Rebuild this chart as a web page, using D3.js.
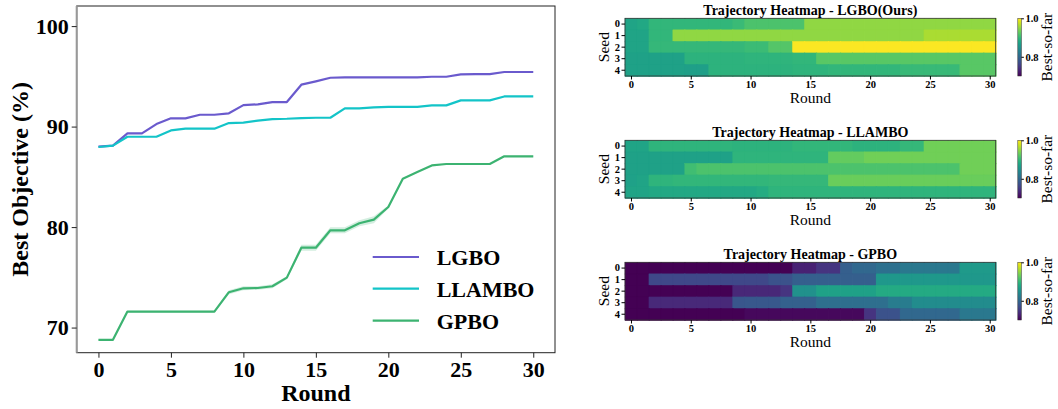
<!DOCTYPE html>
<html><head><meta charset="utf-8">
<script src="https://cdn.jsdelivr.net/npm/d3@7"></script>
<style>body{margin:0;background:#fff}svg{display:block}text{font-family:"Liberation Serif","DejaVu Serif",serif}</style>
</head><body><svg id="c" width="1058" height="409"></svg>
<script>
const rounds = d3.range(0, 31);
const lgbo = [88.0,88.1,89.33,89.33,90.25,90.82,90.82,91.18,91.18,91.32,92.14,92.21,92.44,92.44,94.17,94.5,94.86,94.9,94.9,94.9,94.9,94.9,94.9,94.96,94.96,95.19,95.22,95.22,95.43,95.43,95.43];
const llambo = [87.97,88.1,88.99,88.99,88.99,89.62,89.79,89.79,89.79,90.35,90.39,90.59,90.75,90.78,90.85,90.88,90.88,91.81,91.81,91.91,91.97,91.97,91.97,92.11,92.11,92.61,92.61,92.61,93.0,93.0,93.0];
const gpbo = [68.78,68.78,71.59,71.59,71.59,71.59,71.59,71.59,71.59,73.52,73.91,73.94,74.11,74.97,77.95,77.95,79.68,79.68,80.38,80.74,82.0,84.82,85.48,86.14,86.28,86.28,86.28,86.28,87.04,87.04,87.04];
const gpboStd = [0.05,0.05,0.08,0.08,0.08,0.08,0.08,0.08,0.08,0.2,0.2,0.18,0.2,0.15,0.3,0.3,0.3,0.3,0.3,0.35,0.15,0.05,0.05,0.05,0.05,0.05,0.05,0.05,0.05,0.05,0.05];
const xTicks = [0,5,10,15,20,25,30];
const yTicks = [70,80,90,100];
const seriesNames = ["LGBO","LLAMBO","GPBO"];

// heatmap best-so-far per seed (rows = seeds 0..4, columns = rounds 0..30)
const lgboSeed0 = [0.875,0.88,0.897,0.897,0.897,0.897,0.897,0.897,0.897,0.903,0.915,0.915,0.915,0.915,0.915,0.95,0.95,0.95,0.95,0.95,0.95,0.95,0.95,0.95,0.95,0.95,0.95,0.95,0.95,0.95,0.95];
const lgboSeed1 = [0.875,0.875,0.897,0.897,0.95,0.95,0.95,0.95,0.95,0.95,0.95,0.95,0.95,0.95,0.95,0.95,0.95,0.95,0.95,0.95,0.95,0.95,0.95,0.95,0.95,0.962,0.962,0.962,0.962,0.962,0.962];
const lgboSeed2 = [0.875,0.875,0.9,0.9,0.9,0.9,0.9,0.9,0.9,0.9,0.905,0.905,0.92,0.92,0.998,0.998,0.998,0.998,0.998,0.998,0.998,0.998,0.998,0.998,0.998,0.998,0.998,0.998,0.998,0.998,0.998];
const lgboSeed3 = [0.872,0.872,0.872,0.872,0.872,0.893,0.893,0.893,0.893,0.893,0.895,0.895,0.895,0.895,0.897,0.897,0.922,0.922,0.922,0.922,0.922,0.922,0.922,0.922,0.922,0.922,0.922,0.922,0.922,0.922,0.922];
const lgboSeed4 = [0.872,0.872,0.872,0.872,0.872,0.868,0.868,0.893,0.893,0.893,0.893,0.893,0.893,0.893,0.895,0.895,0.895,0.898,0.898,0.898,0.898,0.898,0.898,0.902,0.902,0.902,0.902,0.902,0.922,0.922,0.922];

const llamboSeed0 = [0.875,0.875,0.895,0.895,0.895,0.895,0.895,0.895,0.895,0.893,0.893,0.893,0.893,0.893,0.897,0.897,0.897,0.897,0.897,0.893,0.893,0.893,0.893,0.9,0.9,0.935,0.935,0.935,0.935,0.935,0.935];
const llamboSeed1 = [0.872,0.872,0.872,0.872,0.872,0.872,0.872,0.872,0.872,0.895,0.895,0.895,0.895,0.895,0.895,0.895,0.895,0.928,0.928,0.928,0.935,0.935,0.935,0.935,0.935,0.935,0.935,0.935,0.935,0.935,0.935];
const llamboSeed2 = [0.872,0.872,0.872,0.872,0.872,0.908,0.915,0.915,0.915,0.915,0.915,0.915,0.915,0.915,0.915,0.915,0.915,0.915,0.915,0.915,0.915,0.915,0.915,0.915,0.915,0.915,0.915,0.915,0.935,0.935,0.935];
const llamboSeed3 = [0.87,0.875,0.895,0.895,0.897,0.897,0.897,0.897,0.897,0.897,0.897,0.897,0.9,0.9,0.9,0.9,0.9,0.932,0.932,0.932,0.932,0.932,0.932,0.932,0.932,0.932,0.932,0.932,0.932,0.932,0.932];
const llamboSeed4 = [0.875,0.875,0.88,0.88,0.88,0.88,0.88,0.88,0.88,0.88,0.88,0.885,0.895,0.895,0.895,0.895,0.895,0.895,0.895,0.895,0.895,0.895,0.895,0.895,0.895,0.895,0.895,0.895,0.895,0.895,0.895];

const gpboSeed0 = [0.7,0.7,0.7,0.7,0.7,0.7,0.7,0.7,0.7,0.7,0.7,0.7,0.7,0.7,0.728,0.728,0.745,0.745,0.79,0.8,0.8,0.81,0.81,0.82,0.82,0.82,0.82,0.82,0.862,0.862,0.862];
const gpboSeed1 = [0.7,0.7,0.765,0.765,0.765,0.765,0.765,0.765,0.765,0.765,0.765,0.765,0.775,0.775,0.79,0.79,0.79,0.79,0.79,0.79,0.79,0.86,0.86,0.86,0.86,0.86,0.86,0.86,0.86,0.86,0.86];
const gpboSeed2 = [0.7,0.7,0.7,0.7,0.7,0.7,0.7,0.7,0.7,0.733,0.733,0.733,0.733,0.745,0.85,0.85,0.872,0.872,0.872,0.872,0.872,0.882,0.882,0.882,0.882,0.882,0.882,0.882,0.882,0.882,0.882];
const gpboSeed3 = [0.7,0.7,0.735,0.735,0.735,0.735,0.735,0.735,0.735,0.78,0.782,0.782,0.782,0.792,0.792,0.792,0.808,0.808,0.808,0.808,0.808,0.808,0.825,0.825,0.845,0.845,0.845,0.845,0.845,0.845,0.845];
const gpboSeed4 = [0.7,0.7,0.7,0.7,0.7,0.7,0.7,0.7,0.7,0.7,0.706,0.706,0.706,0.706,0.706,0.706,0.706,0.706,0.706,0.706,0.745,0.775,0.775,0.8,0.8,0.8,0.8,0.8,0.82,0.82,0.82];

const heatTitles = ["Trajectory Heatmap - LGBO(Ours)","Trajectory Heatmap - LLAMBO","Trajectory Heatmap - GPBO"];
const heatData = [
  [lgboSeed0,lgboSeed1,lgboSeed2,lgboSeed3,lgboSeed4],
  [llamboSeed0,llamboSeed1,llamboSeed2,llamboSeed3,llamboSeed4],
  [gpboSeed0,gpboSeed1,gpboSeed2,gpboSeed3,gpboSeed4]
];
const seeds = [0,1,2,3,4];
const cbTicks = [0.8,1.0];

const svg = d3.select("#c");
const colors = ["#6a5acd","#13c4c8","#3cb371"];

// ---------- left line chart ----------
const L = {l:76.7, r:555, t:6, b:352.7};
const x = d3.scaleLinear().domain([-1.5,31.5]).range([L.l,L.r]);
const y = d3.scaleLinear().domain([67.5,102]).range([L.b,L.t]);

const band = d3.area().x((d,i)=>x(rounds[i])).y0((d,i)=>y(gpbo[i]-gpboStd[i])).y1((d,i)=>y(gpbo[i]+gpboStd[i]));
svg.append("path").datum(gpbo).attr("d",band).attr("fill",colors[2]).attr("opacity",0.22);

const line = d3.line().x((d,i)=>x(rounds[i])).y(d=>y(d));
[lgbo,llambo,gpbo].forEach((s,k)=>{
  svg.append("path").datum(s).attr("d",line).attr("fill","none").attr("stroke",colors[k]).attr("stroke-width",2.2).attr("stroke-linejoin","round");
});

// frame
svg.append("rect").attr("x",L.l).attr("y",L.t).attr("width",L.r-L.l).attr("height",L.b-L.t).attr("fill","none").attr("stroke","#222").attr("stroke-width",1);
svg.append("line").attr("x1",L.l).attr("x2",L.l).attr("y1",L.t).attr("y2",L.b).attr("stroke","#999").attr("stroke-width",2);

const gx = svg.append("g").attr("transform",`translate(0,${L.b})`).call(d3.axisBottom(x).tickValues(xTicks).tickSize(5).tickPadding(4).tickFormat(d3.format("d")));
gx.select(".domain").remove();
gx.selectAll("text").attr("font-family","Liberation Serif").attr("font-weight","bold").attr("font-size",22).attr("fill","#000");
gx.selectAll("line").attr("stroke","#222");
const gy = svg.append("g").attr("transform",`translate(${L.l},0)`).call(d3.axisLeft(y).tickValues(yTicks).tickSize(5).tickPadding(3).tickFormat(d3.format("d")));
gy.select(".domain").remove();
gy.selectAll("text").attr("font-family","Liberation Serif").attr("font-weight","bold").attr("font-size",22).attr("fill","#000");
gy.selectAll("line").attr("stroke","#222");

svg.append("text").attr("x",(L.l+L.r)/2).attr("y",401).attr("text-anchor","middle").attr("font-weight","bold").attr("font-size",24).text("Round");
svg.append("text").attr("transform",`translate(28,${(L.t+L.b)/2}) rotate(-90)`).attr("text-anchor","middle").attr("font-weight","bold").attr("font-size",24).text("Best Objective (%)");

// legend
const legY = [257,288.7,320.7];
seriesNames.forEach((n,k)=>{
  svg.append("line").attr("x1",372.7).attr("x2",419).attr("y1",legY[k]).attr("y2",legY[k]).attr("stroke",colors[k]).attr("stroke-width",2.2);
  svg.append("text").attr("x",436.7).attr("y",legY[k]+8).attr("font-weight","bold").attr("font-size",22).text(n);
});

// ---------- heatmaps ----------
const color = d3.scaleSequential(d3.interpolateViridis).domain([0.7,1.0]).clamp(true);
const defs = svg.append("defs");
const grad = defs.append("linearGradient").attr("id","vir").attr("x1",0).attr("y1",1).attr("x2",0).attr("y2",0);
d3.range(0,1.0001,0.05).forEach(t=>grad.append("stop").attr("offset",t).attr("stop-color",d3.interpolateViridis(t)));

const H = {l:625, r:995.7, h:57.7};
const hx = d3.scaleLinear().domain([-0.5,30.5]).range([H.l,H.r]);
heatData.forEach((rows,i)=>{
  const top = 18.3 + 122*i;
  const hy = d3.scaleBand().domain(seeds).range([top, top+H.h]);
  const g = svg.append("g");
  rows.forEach((row,s)=>{
    g.selectAll(null).data(row).enter().append("rect")
      .attr("x",(d,c)=>hx(rounds[c]-0.5)).attr("y",hy(seeds[s]))
      .attr("width",(d,c)=>hx(rounds[c]+0.5)-hx(rounds[c]-0.5)+0.6).attr("height",hy.bandwidth()+0.6)
      .attr("fill",d=>color(d)).attr("stroke",d=>color(d)).attr("stroke-width",0.4);
  });
  g.append("rect").attr("x",H.l).attr("y",top).attr("width",H.r-H.l).attr("height",H.h).attr("fill","none").attr("stroke","#333").attr("stroke-width",0.8);
  const ax = g.append("g").attr("transform",`translate(0,${top+H.h})`).call(d3.axisBottom(hx).tickValues(xTicks).tickSize(3.5).tickPadding(1.5).tickFormat(d3.format("d")));
  ax.select(".domain").remove();
  ax.selectAll("text").attr("font-family","Liberation Serif").attr("font-weight","bold").attr("font-size",10.5).attr("fill","#000");
  const ay = g.append("g").attr("transform",`translate(${H.l},0)`).call(d3.axisLeft(hy).tickSize(3.5).tickPadding(1.5));
  ay.select(".domain").remove();
  ay.selectAll("text").attr("font-family","Liberation Serif").attr("font-weight","bold").attr("font-size",10.5).attr("fill","#000");
  g.append("text").attr("x",(H.l+H.r)/2).attr("y",top-3.5).attr("text-anchor","middle").attr("font-weight","bold").attr("font-size",14).text(heatTitles[i]);
  g.append("text").attr("x",(H.l+H.r)/2).attr("y",top+H.h+27).attr("text-anchor","middle").attr("font-size",15.5).text("Round");
  g.append("text").attr("transform",`translate(609,${top+H.h/2}) rotate(-90)`).attr("text-anchor","middle").attr("font-size",15.5).text("Seed");
  // colorbar
  const cb = d3.scaleLinear().domain([0.7,1.0]).range([top+H.h, top]);
  g.append("rect").attr("x",1017.8).attr("y",top).attr("width",3.6).attr("height",H.h).attr("fill","url(#vir)").attr("stroke","#333").attr("stroke-width",0.5);
  const ac = g.append("g").attr("transform",`translate(1021.4,0)`).call(d3.axisRight(cb).tickValues(cbTicks).tickSize(2.5).tickPadding(1.5).tickFormat(d3.format(".1f")));
  ac.select(".domain").remove();
  ac.selectAll("text").attr("font-family","Liberation Serif").attr("font-weight","bold").attr("font-size",10.5).attr("fill","#000");
  g.append("text").attr("transform",`translate(1052,${top+H.h/2}) rotate(-90)`).attr("text-anchor","middle").attr("font-size",15.5).text("Best-so-far");
});
</script></body></html>
